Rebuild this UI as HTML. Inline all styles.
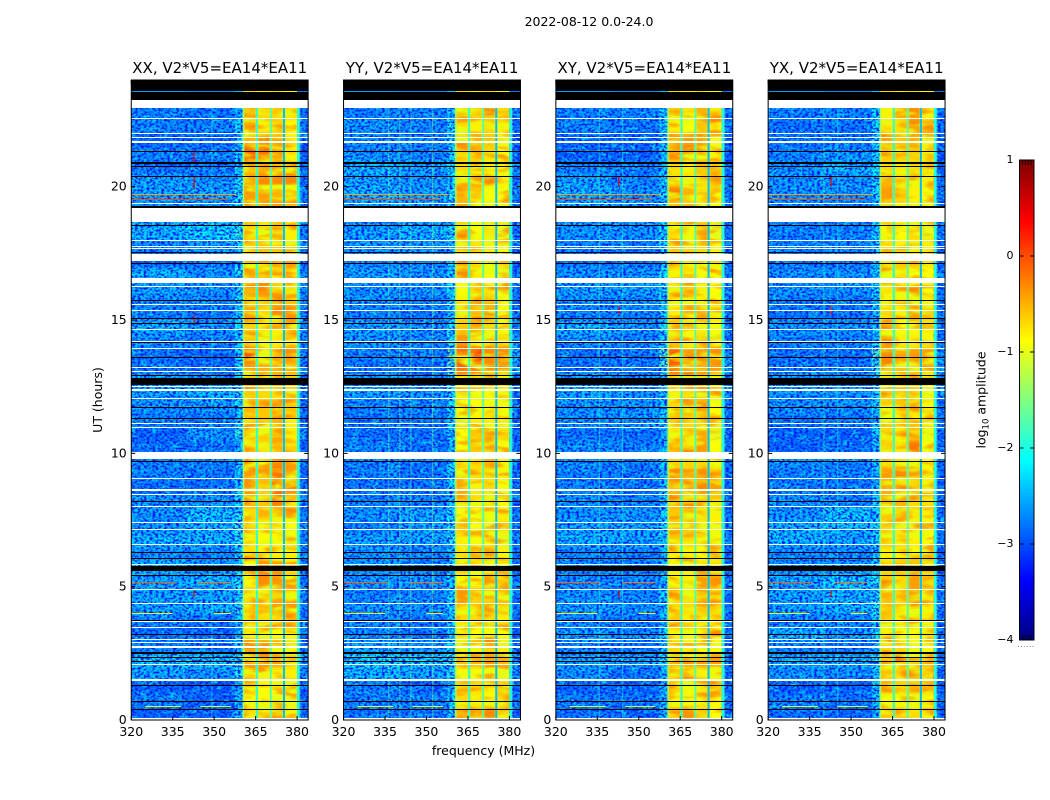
<!DOCTYPE html>
<html lang="en">
<head>
<meta charset="utf-8">
<title>2022-08-12 amplitude waterfall</title>
<style>
html,body{margin:0;padding:0;background:#fff;width:1050px;height:800px;overflow:hidden}
svg{display:block}
text{font-family:"DejaVu Sans","Liberation Sans",sans-serif;fill:#000}
</style>
</head>
<body>
<svg id="figure" xmlns="http://www.w3.org/2000/svg" width="1050" height="800" viewBox="0 0 1050 800">
  <defs>
    <filter id="soften" x="0" y="0" width="100%" height="100%" color-interpolation-filters="sRGB">
      <feGaussianBlur stdDeviation="0 2"/>
    </filter>
    <filter id="speckle-dark" x="0" y="0" width="100%" height="100%" color-interpolation-filters="sRGB">
      <feTurbulence type="fractalNoise" baseFrequency="0.34 0.5" numOctaves="2" seed="4"/>
      <feColorMatrix values="0 0 0 0 0  0 0 0 0 0.08  0 0 0 0 0.95  0 0 0 3.5 -1.45"/>
    </filter>
    <filter id="speckle-light" x="0" y="0" width="100%" height="100%" color-interpolation-filters="sRGB">
      <feTurbulence type="fractalNoise" baseFrequency="0.1 0.22" numOctaves="2" seed="11"/>
      <feColorMatrix values="0 0 0 0 0  0 0 0 0 0.8  0 0 0 0 1  0 0 0 3.5 -1.6"/>
    </filter>
    <filter id="streak-yellow" x="0" y="0" width="100%" height="100%" color-interpolation-filters="sRGB">
      <feTurbulence type="fractalNoise" baseFrequency="0.04 0.13" numOctaves="2" seed="7"/>
      <feColorMatrix values="0 0 0 0 0.9  0 0 0 0 1  0 0 0 0 0.05  0 0 0 3.5 -1.5"/>
    </filter>
    <filter id="streak-orange" x="0" y="0" width="100%" height="100%" color-interpolation-filters="sRGB">
      <feTurbulence type="fractalNoise" baseFrequency="0.04 0.13" numOctaves="2" seed="23"/>
      <feColorMatrix values="0 0 0 0 1  0 0 0 0 0.55  0 0 0 0 0  0 0 0 3 -1.45"/>
    </filter>
  </defs>
  <text x="589" y="26" font-size="12.5" text-anchor="middle">2022-08-12 0.0-24.0</text>
  <text transform="translate(102,400) rotate(-90)" font-size="12.5" text-anchor="middle">UT (hours)</text>
  <text x="483.5" y="755" font-size="12.5" text-anchor="middle">frequency (MHz)</text>
  <text transform="translate(985.5,400) rotate(-90)" font-size="12.5" text-anchor="middle">log<tspan font-size="8.5" dy="3">10</tspan><tspan dy="-3"> amplitude</tspan></text>
  <g id="panels"></g>
  <g id="colorbar"></g>
</svg>
<script>
// ---- data (units: MHz, hours, log10 amplitude) ----
const panelTitles = ["XX, V2*V5=EA14*EA11","YY, V2*V5=EA14*EA11","XY, V2*V5=EA14*EA11","YX, V2*V5=EA14*EA11"];
const freqTicks = [320,335,350,365,380];
const hourTicks = [0,5,10,15,20];
const colorTicks = [1,0,-1,-2,-3,-4];
const freqEdges = [320,340,357.5,360.5,365.1,370.2,374.9,380,384];
const rowHours = 0.5;
const gapBands = [[360.4,360.8,-1.4],[365.1,365.8,-1.9],[370.2,370.8,-1.75],[374.9,375.6,-2.45],[380,380.9,-2.0]];
const stripRow = [-2.6,-2.7,-2.4,-0.7,-0.8,-0.7,-0.9,-2.8];
const rowsXX = [
[-2.8,-2.8,-2.3,-.7,-.6,-.5,-.8,-2.8],[-2.6,-2.8,-2.3,-.9,-.9,-1,-1,-2.7],[-2.8,-2.9,-2.4,-.5,-.9,-.9,-.5,-2.9],[-2.4,-2.5,-2,-.6,-.8,-.8,-.8,-2.6],
[-2.2,-2.2,-1.9,-.5,-.4,-.4,-.6,-2.4],[-2.6,-2.7,-2.2,-.2,-.3,-.7,-.9,-2.8],[-2.7,-2.8,-2.3,-.8,-.9,-.9,-.9,-2.8],[-2.6,-2.7,-2.2,-.6,-.7,-.7,-.6,-2.7],
[-2.4,-2.3,-1.9,-.7,-.8,-.4,-.4,-2.6],[-2.4,-2.4,-2,-.6,-.7,-.5,-.7,-2.6],[-2.4,-2.3,-2,-.9,-.3,-.3,-.4,-2.7],[-2.3,-2.5,-2.1,-.9,-.3,-.4,-.8,-2.6],
[-2.5,-2.6,-2.2,-.7,-.8,-.8,-.8,-2.8],[-2.3,-2.3,-2,-.8,-.9,-.9,-1,-2.6],[-2.5,-2.3,-1.9,-.6,-.9,-.8,-.9,-2.6],[-2.5,-2.2,-2,-.7,-.5,-.7,-.7,-2.7],
[-2.5,-2.5,-2.1,-.4,-.6,-.2,-.5,-2.7],[-2.7,-2.7,-2.2,-.3,-.6,-.2,-.3,-2.8],[-2.6,-2.7,-2.3,-.4,-.4,-.2,-.4,-2.8],[-2.6,-2.6,-2.2,-.3,-.4,-.3,-.4,-2.7],
[-2.7,-2.7,-2.3,-.7,-.7,-.5,-.7,-2.8],[-2.8,-2.5,-1.9,-.6,-.6,-.4,-.8,-2.8],[-2.6,-2.7,-2.2,-.7,-.6,-.5,-.8,-2.7],[-2.5,-2.5,-2.1,-.5,-.6,-.4,-.6,-2.7],
[-2.4,-2.3,-2,-.6,-.7,-.7,-.7,-2.6],[-2.3,-2.4,-2,-.7,-.5,-.5,-.7,-2.6],[-2.7,-2.8,-2.2,-.4,-.5,-.5,-.5,-2.7],[-2.7,-2.8,-2.2,-.1,-.6,-.6,-.3,-2.6],
[-2.5,-2.6,-2.2,-.6,-.8,-.8,-.8,-2.6],[-2.3,-2.5,-2.1,-.6,-.8,-.8,-.7,-2.6],[-2.6,-2.7,-2.2,-.4,-.7,-.3,-.4,-2.7],[-2.5,-2.6,-2.1,-.6,-.5,-.3,-.6,-2.6],
[-2.4,-2.5,-2,-.4,-.3,-.6,-.7,-2.6],[-2.3,-2.5,-2,-.5,-.6,-.8,-.8,-2.6],[-2.8,-2.7,-2.3,-.4,-.4,-.3,-.4,-2.8],[-2.6,-2.5,-2.2,-.6,-.6,-.6,-.7,-2.6],
[-2.3,-2.1,-1.9,-.7,-.6,-.5,-.8,-2.6],[-2.3,-2.2,-2,-.6,-.7,-.6,-.8,-2.7],[-2.5,-2.5,-2.1,-.4,-.5,-.4,-.6,-2.7],[-2.4,-2.4,-2,-.4,-.4,-.5,-.5,-2.6],
[-2.4,-2.5,-2.1,-.4,-.3,-.3,-.3,-2.7],[-2.7,-2.7,-2.2,-.6,-.5,-.4,-.4,-2.8],[-2.6,-2.6,-2.2,-.1,-.2,-.4,-.8,-2.8],[-2.8,-2.8,-2.3,-.5,-.3,-.5,-.8,-2.9],
[-2.6,-2.6,-2.2,-.5,-.8,-.7,-.9,-2.7],[-2.6,-2.7,-2.3,-.4,-.7,-.6,-.7,-2.7],[-2.6,-2.7,-2.3,-.4,-.6,-.6,-.7,-2.7],[-2.6,-2.7,-2.3,-.4,-.6,-.6,-.7,-2.7]];
const rowsYY = [
[-2.7,-2.7,-2.2,-.5,-.4,-.3,-.7,-2.8],[-2.6,-2.6,-2.1,-.7,-.8,-.9,-.7,-2.7],[-2.6,-2.8,-2.3,-.6,-.7,-.8,-.6,-2.8],[-2.3,-2.4,-2,-.9,-.9,-.9,-1,-2.6],
[-2.1,-2.1,-1.9,-.6,-.5,-.4,-.5,-2.5],[-2.4,-2.5,-2.1,-.7,-.8,-.7,-.8,-2.7],[-2.6,-2.7,-2.2,-.8,-.9,-.9,-.9,-2.8],[-2.6,-2.7,-2.2,-.7,-.7,-.7,-.8,-2.7],
[-2.5,-2.5,-2.1,-.7,-.7,-.9,-.7,-2.7],[-2.6,-2.6,-2.2,-.4,-.6,-.5,-.6,-2.7],[-2.5,-2.5,-2.2,-.9,-.9,-.4,-.6,-2.7],[-2.5,-2.6,-2.2,-.6,-.9,-.9,-.7,-2.7],
[-2.5,-2.6,-2.2,-.7,-.5,-.5,-.8,-2.7],[-2.4,-2.4,-2,-.8,-.9,-.9,-1,-2.6],[-2.6,-2.4,-2,-.6,-.9,-1,-.7,-2.7],[-2.5,-2.4,-2.1,-.9,-.9,-.9,-.8,-2.7],
[-2.6,-2.6,-2.2,-.6,-.7,-.6,-.9,-2.8],[-2.7,-2.7,-2.2,-.6,-.8,-.7,-.9,-2.8],[-2.6,-2.7,-2.2,-.6,-.7,-.7,-.8,-2.7],[-2.6,-2.7,-2.2,-.7,-.7,-.5,-.8,-2.8],
[-2.6,-2.7,-2.3,-.9,-.6,-.5,-.9,-2.8],[-2.7,-2.7,-2.2,-.9,-.6,-.7,-.7,-2.8],[-2.7,-2.7,-2.2,-1,-.8,-.8,-.8,-2.8],[-2.6,-2.6,-2.1,-.9,-.9,-.9,-.9,-2.7],
[-2.4,-2.5,-2.1,-.9,-.9,-.9,-.9,-2.7],[-2.4,-2.6,-2.1,-.8,-.7,-.7,-.9,-2.7],[-2.7,-2.7,-1.7,-.1,-.2,-.3,-.3,-2.4],[-2.6,-2.6,-1.6,0,0,-.3,-.3,-2.4],
[-2.5,-2.6,-2.1,-.4,-.7,-.5,-.7,-2.6],[-2.4,-2.5,-2.1,-.6,-.4,-.7,-.9,-2.7],[-2.6,-2.7,-2.2,-.7,-.5,-.3,-.9,-2.7],[-2.5,-2.6,-2.2,-.8,-.5,-.6,-.9,-2.7],
[-2.5,-2.5,-2.1,-.9,-.7,-.9,-1,-2.7],[-2.4,-2.5,-2.1,-.9,-.8,-.9,-1,-2.7],[-2.6,-2.6,-2.2,-.4,-.6,-.6,-.7,-2.8],[-2.5,-2.5,-2.2,-.7,-.7,-.8,-.9,-2.8],
[-2.4,-2.3,-2,-.8,-.9,-.7,-1,-2.7],[-2.5,-2.4,-2.1,-.7,-.9,-.7,-1,-2.8],[-2.4,-2.4,-2,-.6,-.9,-.8,-.9,-2.7],[-2.3,-2.4,-2,-.5,-.6,-.9,-.9,-2.7],
[-2.4,-2.5,-2.1,-.4,-.5,-.7,-.8,-2.7],[-2.3,-2.4,-2.1,-.7,-.7,-.8,-.8,-2.7],[-2.5,-2.6,-2.2,-.6,-.5,-.7,-.9,-2.8],[-2.6,-2.6,-2.2,-.3,-.5,-.6,-.9,-2.8],
[-2.5,-2.6,-2.1,-.7,-.8,-.7,-.8,-2.7],[-2.6,-2.6,-2.2,-.4,-.6,-.3,-.7,-2.7],[-2.6,-2.6,-2.2,-.4,-.6,-.3,-.7,-2.7],[-2.6,-2.6,-2.2,-.4,-.6,-.3,-.7,-2.7]];
const rowsXY = [
[-2.7,-2.8,-2.3,-.6,-.4,-.6,-.9,-2.8],[-2.6,-2.7,-2.3,-.9,-.9,-.9,-.9,-2.7],[-2.8,-2.8,-2.4,-.6,-.8,-.7,-.5,-2.9],[-2.5,-2.7,-2.3,-.7,-.7,-.8,-.8,-2.7],
[-2.4,-2.4,-2.1,-.5,-.6,-.4,-.4,-2.7],[-2.6,-2.7,-2.3,-.7,-.8,-.9,-.9,-2.8],[-2.4,-2.6,-2.2,-.8,-.9,-.9,-.9,-2.7],[-2.6,-2.7,-2.3,-.6,-.8,-.7,-.8,-2.8],
[-2.4,-2.5,-2.2,-.7,-.7,-.6,-.6,-2.7],[-2.5,-2.6,-2.2,-.5,-.7,-.5,-.7,-2.8],[-2.6,-2.6,-2.3,-.9,-.8,-.4,-.4,-2.7],[-2.6,-2.6,-2.3,-.8,-.8,-.7,-.8,-2.7],
[-2.6,-2.6,-2.3,-.8,-.8,-.9,-1,-2.8],[-2.3,-2.4,-2.1,-.6,-.7,-.8,-.9,-2.7],[-2.4,-2.4,-2.1,-.5,-.7,-.8,-.9,-2.7],[-2.5,-2.5,-2.2,-.6,-.6,-.7,-.8,-2.7],
[-2.5,-2.6,-2.2,-.3,-.6,-.6,-.6,-2.7],[-2.6,-2.7,-2.3,-.5,-.6,-.3,-.4,-2.8],[-2.6,-2.7,-2.3,-.3,-.4,-.4,-.6,-2.8],[-2.5,-2.6,-2.2,-.6,-.7,-.7,-.8,-2.7],
[-2.5,-2.6,-2.3,-.6,-.7,-.4,-.9,-2.8],[-2.7,-2.7,-2.4,-.8,-.7,-.5,-1,-2.8],[-2.5,-2.5,-2.2,-.6,-.7,-.7,-.9,-2.7],[-2.5,-2.5,-2.2,-.7,-.5,-.4,-.9,-2.7],
[-2.4,-2.5,-2.2,-.8,-.7,-.6,-.9,-2.6],[-2.4,-2.5,-2.2,-.7,-.6,-.7,-.9,-2.7],[-2.7,-2.7,-1.9,-.1,-.5,-.5,-.4,-2.5],[-2.7,-2.7,-1.8,-.1,-.4,-.3,-.3,-2.5],
[-2.5,-2.6,-2.1,-.6,-.8,-.7,-.9,-2.7],[-2.3,-2.5,-2.1,-.5,-.9,-.8,-.9,-2.7],[-2.6,-2.6,-2.2,-.8,-.8,-.4,-.7,-2.7],[-2.5,-2.5,-2.2,-.8,-.8,-.8,-.9,-2.7],
[-2.4,-2.4,-2.1,-.7,-.6,-.8,-.9,-2.7],[-2.5,-2.5,-2.1,-.8,-.7,-.9,-.9,-2.7],[-2.7,-2.7,-2.3,-.5,-.7,-.5,-.6,-2.8],[-2.6,-2.6,-2.2,-.6,-.7,-.7,-.8,-2.8],
[-2.5,-2.5,-2.1,-.7,-.8,-.5,-1,-2.7],[-2.4,-2.5,-2.1,-.7,-.8,-.6,-1,-2.8],[-2.4,-2.5,-2.1,-.7,-.7,-.8,-.9,-2.8],[-2.3,-2.5,-2.1,-.2,-.5,-.7,-.9,-2.7],
[-2.4,-2.6,-2.2,-.7,-.7,-.7,-.7,-2.8],[-2.6,-2.6,-2.2,-.7,-.8,-.6,-.6,-2.8],[-2.8,-2.8,-2.3,-.3,-.2,-.4,-.8,-2.9],[-2.8,-2.8,-2.3,-.4,-.4,-.4,-.9,-2.9],
[-2.6,-2.7,-2.2,-.8,-.9,-.6,-.8,-2.7],[-2.6,-2.6,-2.2,-.6,-.8,-.5,-.7,-2.7],[-2.6,-2.6,-2.2,-.6,-.7,-.5,-.7,-2.7],[-2.6,-2.6,-2.2,-.6,-.7,-.5,-.7,-2.7]];
const rowsYX = [
[-2.7,-2.8,-2.3,-.7,-.6,-.7,-.8,-2.8],[-2.6,-2.7,-2.3,-.9,-.9,-.9,-.9,-2.7],[-2.8,-2.8,-2.2,-.5,-.6,-.5,-.5,-2.9],[-2.5,-2.6,-2.2,-.7,-.7,-.7,-.7,-2.7],
[-2.3,-2.3,-2,-.6,-.2,-.3,-.6,-2.7],[-2.6,-2.7,-2.3,-.7,-.7,-.9,-.9,-2.8],[-2.3,-2.5,-2.1,-.8,-.9,-.9,-.9,-2.7],[-2.6,-2.6,-2.1,-.6,-.8,-.7,-.8,-2.8],
[-2.4,-2.3,-2,-.6,-.7,-.6,-.8,-2.7],[-2.4,-2.3,-2.1,-.5,-.6,-.4,-.7,-2.8],[-2.4,-2.2,-2,-.6,-.7,-.4,-.5,-2.7],[-2.5,-2.5,-2.2,-.7,-.5,-.4,-.7,-2.7],
[-2.6,-2.6,-2.3,-.8,-.8,-.9,-1,-2.8],[-2.3,-2.4,-2.2,-.6,-.7,-.8,-.9,-2.7],[-2.3,-2.3,-2.2,-.6,-.7,-.8,-.9,-2.7],[-2.5,-2.2,-2.2,-.6,-.6,-.7,-.8,-2.7],
[-2.5,-2.6,-2.2,-.5,-.5,-.7,-.7,-2.7],[-2.6,-2.7,-2.3,-.5,-.6,-.7,-.8,-2.8],[-2.6,-2.6,-2.3,-.4,-.3,-.5,-.8,-2.8],[-2.5,-2.6,-2.2,-.7,-.7,-.8,-.9,-2.7],
[-2.8,-2.7,-2.3,-.6,-.7,-.2,-.9,-2.8],[-2.8,-2.8,-2.3,-.7,-.8,-.7,-1,-2.8],[-2.7,-2.7,-2.3,-.6,-.7,-.8,-.9,-2.7],[-2.5,-2.5,-2.2,-.6,-.6,-.7,-.9,-2.7],
[-2.5,-2.5,-2.2,-.7,-.6,-.7,-.9,-2.6],[-2.4,-2.5,-2.2,-.7,-.7,-.7,-.9,-2.7],[-2.7,-2.7,-2,-.3,-.5,-.5,-.5,-2.5],[-2.7,-2.7,-1.8,-.1,-.4,-.4,-.4,-2.5],
[-2.6,-2.6,-2.2,-.6,-.8,-.8,-.9,-2.7],[-2.5,-2.5,-2.2,-.7,-.9,-.9,-.8,-2.7],[-2.7,-2.7,-2.3,-.7,-.8,-.3,-.6,-2.7],[-2.6,-2.6,-2.2,-.8,-.8,-.7,-.9,-2.7],
[-2.5,-2.5,-2.2,-.7,-.7,-.8,-.9,-2.7],[-2.5,-2.5,-2.2,-.8,-.7,-.9,-.9,-2.7],[-2.7,-2.7,-2.3,-.6,-.6,-.6,-.7,-2.8],[-2.6,-2.6,-2.2,-.7,-.8,-.8,-.8,-2.8],
[-2.6,-2.6,-2.2,-.8,-.9,-.7,-1,-2.7],[-2.6,-2.6,-2.2,-.8,-.8,-.7,-1,-2.8],[-2.5,-2.6,-2.2,-.6,-.8,-.8,-.9,-2.8],[-2.5,-2.5,-2.2,-.4,-.6,-.8,-.9,-2.7],
[-2.5,-2.5,-2.2,-.5,-.7,-.8,-.8,-2.8],[-2.5,-2.3,-2.1,-.7,-.8,-.7,-.7,-2.8],[-2.6,-2.5,-2.1,-.6,-.5,-.6,-.8,-2.9],[-2.7,-2.7,-2.2,-.5,-.6,-.5,-.8,-2.9],
[-2.7,-2.7,-2.2,-.7,-.7,-.3,-.4,-2.7],[-2.6,-2.6,-2.2,-.8,-.5,-.4,-.8,-2.7],[-2.6,-2.6,-2.2,-.8,-.5,-.4,-.8,-2.7],[-2.6,-2.6,-2.2,-.8,-.5,-.4,-.8,-2.7]];
const panelRows = [rowsXX,rowsYY,rowsXY,rowsYX];
const rfiLines = [[19.72,320,358,-0.4],[19.52,320,355,0],[5.17,320,336,-0.1],[5.17,344,356,-0.2],[4.0,320,335,-0.8],[4.0,350,356,-0.8],[0.53,325,338,-1.1],[0.53,345,356,-1.1]];
const rfiSpikes = [[0,342.5,20.85,21.3,0.4],[0,342.5,19.9,20.4,0.5],[0,342.5,14.9,15.2,0.4],[0,342.5,4.6,4.85,0.5],[2,342.5,20.0,20.4,0.5],[2,342.5,15.2,15.5,0.4],[2,342.5,4.6,4.85,0.5],[3,342.5,20.0,20.4,0.5],[3,342.5,15.2,15.5,0.4],[3,342.5,4.6,4.85,0.5]];
const channelLines = [[0,349,-2.1],[1,336.2,-1.7],[1,340.2,-1.6],[1,344.2,-1.7],[1,352.1,-1.5],[2,335.5,-1.9],[2,344,-2.0],[3,340,-1.9],[3,345,-2.1]];
const blackBands = [[23.25,24],[21.3,21.35],[20.88,20.94],[20.72,20.76],[20.37,20.41],[19.21,19.28],[18.53,18.57],[17.5,17.54],[17.08,17.12],[15.7,15.74],[15.04,15.08],[14.86,14.9],[14.12,14.16],[13.57,13.61],[12.89,12.93],[12.54,12.81],[11.71,11.75],[11.29,11.33],[9.69,9.73],[8.17,8.21],[6.25,6.29],[6.04,6.08],[5.6,5.78],[5.41,5.45],[3.72,3.76],[3.17,3.21],[2.49,2.56],[2.33,2.37],[2.17,2.21],[1.28,1.32],[0.68,0.72],[0.355,0.395]];
const whiteBands = [[22.95,23.25],[22.53,22.57],[21.97,22.01],[21.83,21.87],[21.64,21.72],[19.34,19.38],[18.69,19.21],[17.97,18.01],[17.75,17.79],[17.65,17.69],[17.21,17.49],[16.38,16.58],[16.23,16.27],[15.57,15.61],[15.34,15.38],[14.61,14.65],[14.17,14.2],[13.92,13.96],[13.21,13.25],[13.06,13.1],[12.5,12.54],[12.34,12.43],[12.04,12.08],[11.11,11.15],[10.96,11.0],[9.78,10.06],[9.04,9.08],[8.6,8.66],[8.42,8.46],[7.98,8.02],[7.39,7.43],[7.14,7.18],[6.57,6.61],[5.82,5.86],[4.86,4.9],[4.36,4.4],[3.66,3.7],[3.46,3.5],[3.01,3.05],[2.89,2.93],[2.69,2.76],[2.07,2.11],[1.47,1.54],[0,0.07]];

// ---- axis functions ----
const panelLefts = [131.25,343.55,555.85,768.15];
const panelWidth = 176.9;
const plotTop = 80, plotBottom = 720;
const NS = "http://www.w3.org/2000/svg";
function xScale(p,f){ return panelLefts[p] + (f-320)/64*panelWidth; }
function yScale(h){ return plotBottom - h/24*(plotBottom-plotTop); }
function colorY(v){ return 640 - (v+4)/5*480; }
function clamp01(a){ return Math.max(0,Math.min(1,a)); }
function jet(v){
  const t = clamp01((v+4)/5);
  const r = clamp01(1.5-Math.abs(4*t-3));
  const g = clamp01(1.5-Math.abs(4*t-2));
  const b = clamp01(1.5-Math.abs(4*t-1));
  return "rgb("+Math.round(r*255)+","+Math.round(g*255)+","+Math.round(b*255)+")";
}
function mk(tag,parent,attrs){
  const e = document.createElementNS(NS,tag);
  for(const k in attrs){ e.setAttribute(k,attrs[k]); }
  parent.appendChild(e);
  return e;
}
const panelsG = document.getElementById("panels");
panelTitles.forEach(function(title,p){
  const g = mk("g",panelsG,{});
  
  
  const rows = panelRows[p];
  const cells = mk("g",g,{filter:"url(#soften)"});
  
  
  rows.forEach(function(row,i){
    row.forEach(function(v,c){
      const x0 = xScale(p,freqEdges[c]), x1 = xScale(p,freqEdges[c+1]);
      const y1 = yScale(i*rowHours), y0 = yScale((i+1)*rowHours);
      const r = mk("rect",cells,{x:x0,y:y0-0.5,width:x1-x0+0.3,height:y1-y0+1,fill:jet(v)});
      
      
    });
  });
  // speckle texture over the noise-dominated channels
  [[320,360.5],[380,384]].forEach(function(span){
    const a = xScale(p,span[0]), w = xScale(p,span[1])-a;
    const t1 = mk("rect",g,{x:a,y:plotTop,width:w,height:plotBottom-plotTop,filter:"url(#speckle-light)"});
    
    
    const t2 = mk("rect",g,{x:a,y:plotTop,width:w,height:plotBottom-plotTop,filter:"url(#speckle-dark)"});
    
    
  });
  // blotchy structure inside the bright band
  const bx = xScale(p,360.5), bw = xScale(p,380)-bx;
  const s1 = mk("rect",g,{x:bx,y:plotTop,width:bw,height:plotBottom-plotTop,filter:"url(#streak-yellow)"});
  
  
  const s2 = mk("rect",g,{x:bx,y:plotTop,width:bw,height:plotBottom-plotTop,filter:"url(#streak-orange)"});
  
  
  gapBands.forEach(function(b){
    const halo = mk("rect",g,{x:xScale(p,b[0]-0.35),y:plotTop,width:xScale(p,b[1]+0.35)-xScale(p,b[0]-0.35),height:plotBottom-plotTop,fill:jet(-1.3),opacity:0.35});
    
    
    const r = mk("rect",g,{x:xScale(p,b[0]),y:plotTop,width:xScale(p,b[1])-xScale(p,b[0]),height:plotBottom-plotTop,fill:jet(b[2])});
    
    
  });
  channelLines.filter(function(c){return c[0]===p;}).forEach(function(c){
    const r = mk("rect",g,{x:xScale(p,c[1]),y:plotTop,width:1,height:plotBottom-plotTop,fill:jet(c[2]),opacity:0.55});
    
    
  });
  rfiLines.forEach(function(l){
    const r = mk("rect",g,{x:xScale(p,l[1]),y:Math.round(yScale(l[0])),width:xScale(p,l[2])-xScale(p,l[1]),height:1,fill:jet(l[3]),"shape-rendering":"crispEdges"});
    
    
  });
  rfiSpikes.filter(function(s){return s[0]===p;}).forEach(function(s){
    const r = mk("rect",g,{x:xScale(p,s[1]),y:yScale(s[3]),width:1.2,height:yScale(s[2])-yScale(s[3]),fill:jet(s[4])});
    
    
  });
  whiteBands.forEach(function(b){
    const top = Math.round(yScale(b[1]));
    const r = mk("rect",g,{x:xScale(p,320),y:top,width:panelWidth,height:Math.max(1,Math.round(yScale(b[0])-yScale(b[1]))),fill:"#fff","shape-rendering":"crispEdges"});
    
    
  });
  blackBands.forEach(function(b){
    const top = Math.round(yScale(b[1]));
    const r = mk("rect",g,{x:xScale(p,320),y:top,width:panelWidth,height:Math.max(1,Math.round(yScale(b[0])-yScale(b[1]))),fill:"#000","shape-rendering":"crispEdges"});
    
    
  });
  stripRow.forEach(function(v,c){
    const r = mk("rect",g,{x:xScale(p,freqEdges[c]),y:Math.round(yScale(23.58)),width:xScale(p,freqEdges[c+1])-xScale(p,freqEdges[c]),height:1,fill:jet(v),"shape-rendering":"crispEdges"});
    
    
  });
  const frame = mk("rect",g,{x:xScale(p,320),y:plotTop,width:panelWidth,height:plotBottom-plotTop,fill:"none",stroke:"#000","stroke-width":1});
  
  
  freqTicks.forEach(function(f){
    const x = xScale(p,f);
    const t = mk("path",g,{d:"M"+x+" 720v-4M"+x+" 80v4",stroke:"#000","stroke-width":1,fill:"none"});
    
    
    const lab = mk("text",g,{x:x,y:736,"font-size":12.5,"text-anchor":"middle"});
    lab.textContent = String(f);
    
    
  });
  hourTicks.forEach(function(h){
    const y = yScale(h);
    const l = xScale(p,320), r = xScale(p,384);
    const t = mk("path",g,{d:"M"+l+" "+y+"h4M"+r+" "+y+"h-4",stroke:"#000","stroke-width":1,fill:"none"});
    
    
    const lab = mk("text",g,{x:l-4.5,y:y+4,"font-size":12.5,"text-anchor":"end"});
    lab.textContent = String(h);
    
    
  });
  const ttl = mk("text",g,{x:xScale(p,320)+88.5,y:73,"font-size":15,"text-anchor":"middle"});
  ttl.textContent = title;
  
  
});

// ---- colorbar ----
const cb = document.getElementById("colorbar");
const cbLeft = 1019.5, cbWidth = 14.5;
for(let i=0;i<240;i++){
  const lo = -4+i*5/240;
  const r = mk("rect",cb,{x:cbLeft,y:colorY(lo+5/240),width:cbWidth,height:2.4,fill:jet(lo+2.5/240),"shape-rendering":"crispEdges"});
  
  
}
const cbFrame = mk("rect",cb,{x:cbLeft,y:160,width:cbWidth,height:480,fill:"none",stroke:"#000","stroke-width":1});


colorTicks.forEach(function(v){
  const y = colorY(v);
  const t = mk("path",cb,{d:"M"+cbLeft+" "+y+"h4M"+(cbLeft+cbWidth)+" "+y+"h-4",stroke:"#000","stroke-width":1,fill:"none"});
  
  
  const lab = mk("text",cb,{x:1013.5,y:y+3,"font-size":11,"text-anchor":"end"});
  lab.textContent = String(v).replace("-","\u2212");
  
  
});
for(let i=0;i<6;i++){
  const x = cbLeft + i*cbWidth/5;
  const t = mk("path",cb,{d:"M"+x+" 640v-5M"+x+" 160v5",stroke:"#000","stroke-width":0.8,fill:"none"});
  
  
  const d = mk("rect",cb,{x:x-1.5,y:646,width:1,height:1,fill:"#888"});
  
  
}
</script>
</body>
</html>
